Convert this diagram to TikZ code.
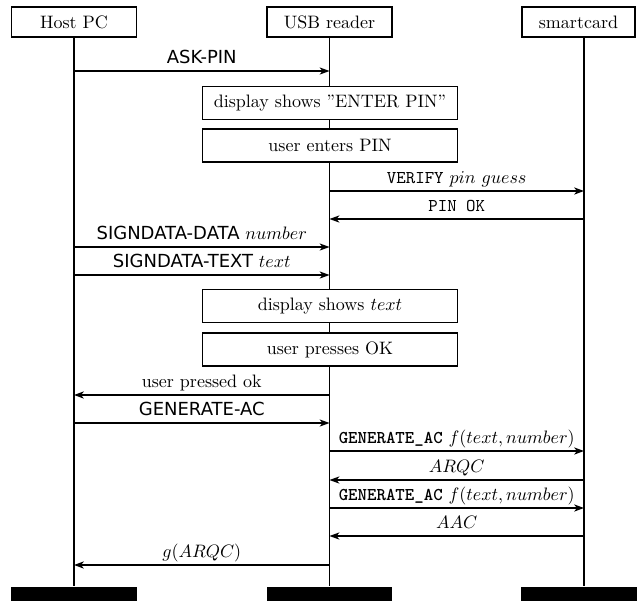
\documentclass[tikz,border=0pt]{standalone}
\usepackage{fontspec}
\setsansfont{DejaVu Sans}
\usetikzlibrary{arrows.meta}
\begin{document}
\begin{tikzpicture}[x=0.5556pt,y=-0.5556pt,
  line width=0.65pt,
  inst/.style={draw,fill=white,inner sep=0pt,minimum width=69.4pt,minimum height=16.7pt},
  actbox/.style={draw,fill=white,inner sep=0pt,minimum width=141.7pt,minimum height=18.3pt},
  endbar/.style={fill=black,inner sep=0pt,minimum width=70pt,minimum height=15pt},
  msg/.style={-{Stealth[length=5.5pt,width=4pt,inset=1.6pt]}},
  lbl/.style={anchor=base,yshift=4.4pt,inner sep=0pt}
]
\useasboundingbox (0,0) rectangle (637,600);
\clip (0,0) rectangle (637,600);

% instances
\node[inst] (h1) at (74,22) {Host PC};
\node[inst] (h2) at (329.5,22) {USB reader};
\node[inst,minimum width=62.8pt] (h3) at (578.5,22) {smartcard};

% end bars
\node[endbar] (e1) at (74,600) {};
\node[endbar] (e2) at (329.5,600) {};
\node[endbar] (e3) at (584,600) {};

% lifelines
\draw (h1.south) -- (e1.north);
\draw (h2.south) -- (e2.north);
\draw (h3.south -| e3.north) -- (e3.north);

% activity boxes
\node[actbox] (b1) at (330,103) {display shows "ENTER PIN"};
\node[actbox] (b2) at (330,145.5) {user enters PIN};
\node[actbox] (b3) at (330,306) {display shows $text$};
\node[actbox] (b4) at (330,349.5) {user presses OK};

% message end points on the lifelines
\foreach \n/\y in {1/71,2/191,3/219,4/247,5/275,6/395,7/423,8/451,9/480,10/508,11/536,12/565}{
  \coordinate (a\n) at (74,\y);
  \coordinate (b\n) at (329.5,\y);
  \coordinate (c\n) at (584,\y);
}

\draw[msg] (a1) -- node[lbl]{\sffamily ASK-PIN} (b1);
\draw[msg] (b2) -- node[lbl]{\texttt{VERIFY} $pin\ guess$} (c2);
\draw[msg] (c3) -- node[lbl]{\texttt{PIN OK}} (b3);
\draw[msg] (a4) -- node[lbl]{\sffamily SIGNDATA-DATA \rmfamily$number$} (b4);
\draw[msg] (a5) -- node[lbl]{\sffamily SIGNDATA-TEXT \rmfamily$text$} (b5);
\draw[msg] (b6) -- node[lbl]{user pressed ok} (a6);
\draw[msg] (a7) -- node[lbl]{\sffamily GENERATE-AC} (b7);
\draw[msg] (b8) -- node[lbl]{\texttt{\bfseries GENERATE\_AC} $f(text, number)$} (c8);
\draw[msg] (c9) -- node[lbl]{$ARQC$} (b9);
\draw[msg] (b10) -- node[lbl]{\texttt{\bfseries GENERATE\_AC} $f(text, number)$} (c10);
\draw[msg] (c11) -- node[lbl]{$AAC$} (b11);
\draw[msg] (b12) -- node[lbl]{$g(ARQC)$} (a12);
\end{tikzpicture}
\end{document}
